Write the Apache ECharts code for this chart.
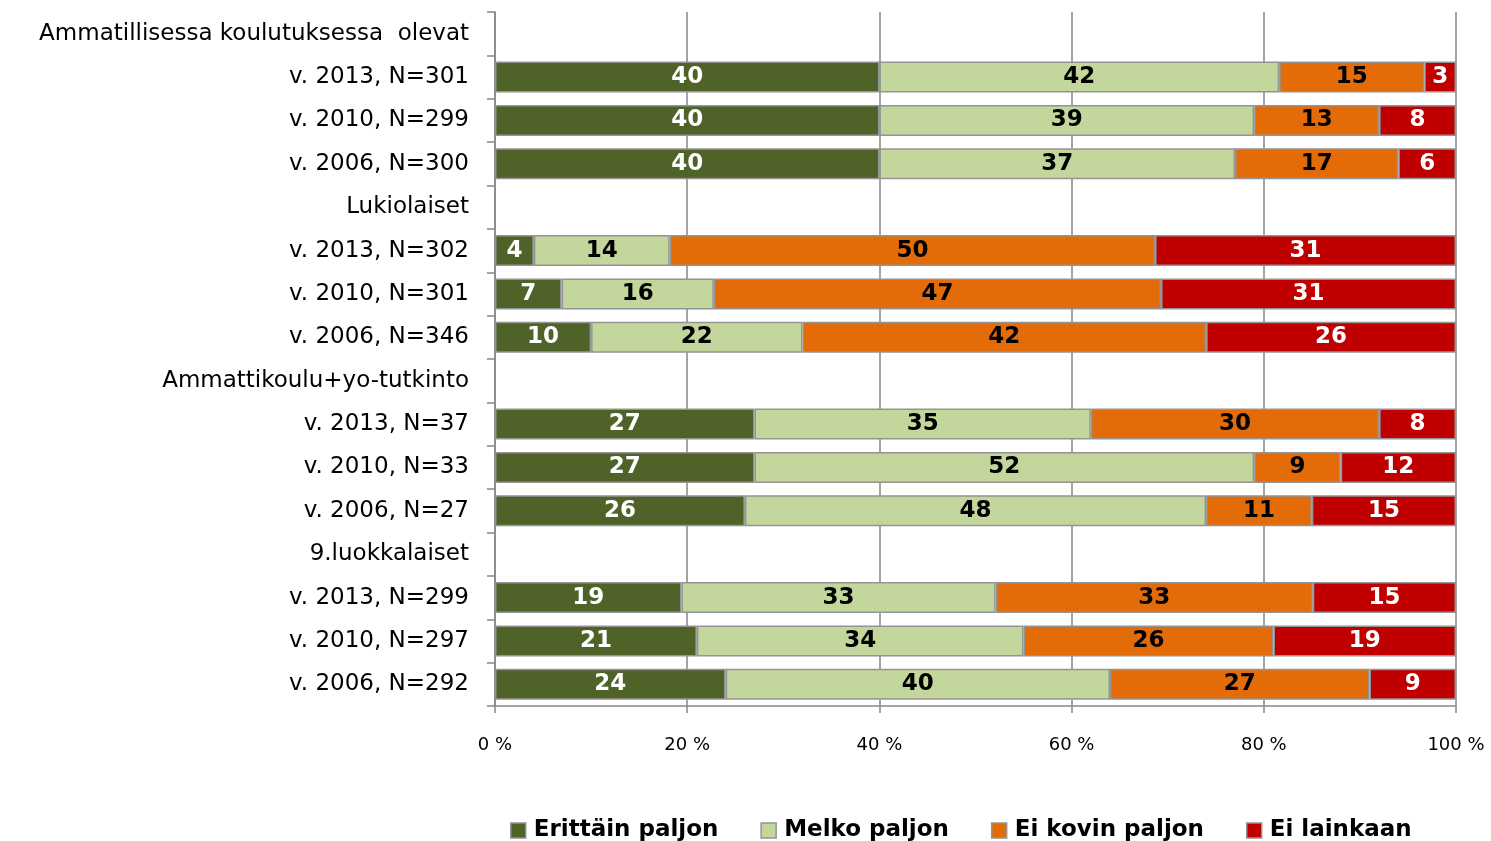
<!DOCTYPE html>
<html>
<head>
<meta charset="utf-8">
<script src="https://cdn.jsdelivr.net/npm/echarts@6/dist/echarts.min.js"></script>
<style>
html,body{margin:0;padding:0;background:#fff;}
#chart{width:1491px;height:841px;}
</style>
</head>
<body>
<div id="chart"></div>
<script>
const categories = [
  'Ammatillisessa koulutuksessa  olevat',
  'v. 2013, N=301', 'v. 2010, N=299', 'v. 2006, N=300',
  'Lukiolaiset',
  'v. 2013, N=302', 'v. 2010, N=301', 'v. 2006, N=346',
  'Ammattikoulu+yo-tutkinto',
  'v. 2013, N=37', 'v. 2010, N=33', 'v. 2006, N=27',
  '9.luokkalaiset',
  'v. 2013, N=299', 'v. 2010, N=297', 'v. 2006, N=292'
];
const seriesNames = ['Erittäin paljon', 'Melko paljon', 'Ei kovin paljon', 'Ei lainkaan'];
const erittainPaljon = [null, 40, 40, 40, null, 4, 7, 10, null, 27, 27, 26, null, 19.4, 21, 24];
const melkoPaljon    = [null, 41.6, 39, 37, null, 14, 16, 22, null, 35, 52, 48, null, 32.7, 34, 40];
const eiKovinPaljon  = [null, 15.1, 13, 17, null, 50, 47, 42, null, 30, 9, 11, null, 33, 26, 27];
const eiLainkaan     = [null, 3.3, 8, 6, null, 31, 31, 26, null, 8, 12, 15, null, 14.9, 19, 9];
const xTicks = [0, 20, 40, 60, 80, 100];

const raw = [erittainPaljon, melkoPaljon, eiKovinPaljon, eiLainkaan];
const colors = ['#4F6228', '#C3D69B', '#E36C09', '#C00000'];
const labelColors = ['#ffffff', '#000000', '#000000', '#ffffff'];
const sums = categories.map((c, i) => raw.reduce((a, s) => a + (s[i] || 0), 0));
const FONT = 'DejaVu Sans';

const series = raw.map((arr, k) => ({
  name: seriesNames[k],
  type: 'bar',
  stack: 'total',
  barWidth: 31,
  data: arr.map((v, i) => v == null ? null : v / sums[i] * 100),
  itemStyle: { color: colors[k], borderColor: '#949494', borderWidth: 1.5 },
  label: {
    show: true,
    position: 'inside',
    color: labelColors[k],
    fontFamily: FONT,
    fontWeight: 'bold',
    fontSize: 23,
    formatter: p => arr[p.dataIndex] == null ? '' : String(Math.round(arr[p.dataIndex]))
  },
  emphasis: { disabled: true }
}));

const chart = echarts.init(document.getElementById('chart'), null, { renderer: 'canvas' });
chart.setOption({
  animation: false,
  backgroundColor: '#ffffff',
  grid: { left: 495, right: 35, top: 12, bottom: 135, containLabel: false },
  legend: {
    top: 814,
    left: 505,
    itemWidth: 15,
    itemHeight: 15,
    itemGap: 42,
    icon: 'rect',
    itemStyle: { borderColor: '#949494', borderWidth: 1.5 },
    textStyle: { fontFamily: FONT, fontWeight: 'bold', fontSize: 23, color: '#000', padding: [0, 0, 0, 3] },
    data: seriesNames
  },
  xAxis: {
    type: 'value',
    min: 0, max: 100, interval: 20,
    axisLine: { show: true, lineStyle: { color: '#868686', width: 1.5 } },
    axisTick: { show: true, length: 7, lineStyle: { color: '#868686', width: 1.5 } },
    splitLine: { show: true, lineStyle: { color: '#868686', width: 1.5 } },
    axisLabel: {
      margin: 30,
      fontFamily: FONT, fontSize: 18, color: '#000',
      formatter: v => xTicks.includes(v) ? v + ' %' : ''
    }
  },
  yAxis: {
    type: 'category',
    inverse: true,
    data: categories,
    axisLine: { show: true, lineStyle: { color: '#868686', width: 1.5 } },
    axisTick: { show: true, length: 8, lineStyle: { color: '#868686', width: 1.5 } },
    axisLabel: {
      margin: 26,
      fontFamily: FONT, fontSize: 23, color: '#000'
    }
  },
  series: series
});
</script>
</body>
</html>
